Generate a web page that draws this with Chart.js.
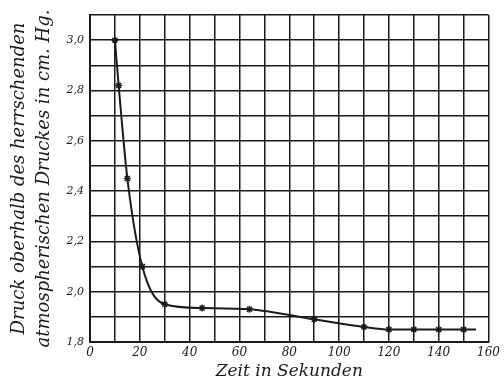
<!DOCTYPE html>
<html>
<head>
<meta charset="utf-8">
<script src="https://cdn.jsdelivr.net/npm/chart.js@4"></script>
<style>
  html, body { margin: 0; padding: 0; background: #fff; }
  #wrap { width: 504px; height: 384px; }
</style>
</head>
<body>
<div id="wrap"><canvas id="myChart"></canvas></div>
<script>
// Zeit in Sekunden / Druck (cm Hg)
const zeit = [10, 11.5, 15, 21, 30, 45, 64, 90, 110, 120, 130, 140, 150, 155];
const druck = [3.0, 2.82, 2.45, 2.1, 1.95, 1.935, 1.93, 1.89, 1.86, 1.85, 1.85, 1.85, 1.85, 1.85];
const markers = [1, 1, 1, 1, 1, 1, 1, 1, 1, 1, 1, 1, 1, 0];
const yTitle = ['Druck oberhalb des herrschenden', 'atmospherischen Druckes in cm. Hg.'];
const xTitle = 'Zeit in Sekunden';

const ctx = document.getElementById('myChart');
const ink = '#1a1a1a';
const serif = 'DejaVu Serif';

new Chart(ctx, {
type: 'line',
data: {
    datasets: [{
        data: zeit.map((x, i) => ({ x: x, y: druck[i] })),
        borderColor: ink,
        borderWidth: 2,
        cubicInterpolationMode: 'monotone',
        pointStyle: 'star',
        pointRadius: markers.map(m => m ? 3.5 : 0),
        pointBorderColor: ink,
        pointBorderWidth: 1.5,
        pointBackgroundColor: ink
    }]
},
options: {
    responsive: true,
    maintainAspectRatio: false,
    animation: false,
    layout: { padding: { top: 15, right: 12, left: 0, bottom: 0 } },
    plugins: { legend: { display: false }, tooltip: { enabled: false } },
    scales: {
        x: {
            type: 'linear',
            min: 0,
            max: 160,
            afterFit: s => { s.height = 42; },
            grid: { color: ink, lineWidth: 1.5, drawTicks: false },
            border: { color: ink, width: 2 },
            ticks: {
                stepSize: 10,
                padding: 4,
                maxRotation: 0,
                minRotation: 0,
                autoSkip: false,
                color: ink,
                font: { family: serif, style: 'italic', size: 12 },
                callback: v => (v % 20 === 0 ? String(v) : '')
            },
            title: {
                display: true,
                text: xTitle,
                color: ink,
                padding: { top: 0, bottom: 2 },
                font: { family: serif, style: 'italic', size: 17 }
            }
        },
        y: {
            min: 1.8,
            max: 3.1,
            afterFit: s => { s.width = 90; },
            grid: { color: ink, lineWidth: 1.5, drawTicks: false },
            border: { color: ink, width: 2 },
            ticks: {
                stepSize: 0.1,
                padding: 6,
                autoSkip: false,
                color: ink,
                font: { family: serif, style: 'italic', size: 11 },
                callback: v => {
                    const k = Math.round(v * 10);
                    return (k % 2 === 0 && k <= 30) ? (k / 10).toFixed(1).replace('.', ',') : '';
                }
            },
            title: {
                display: true,
                text: yTitle,
                color: ink,
                padding: { top: 7, bottom: 0 },
                font: { family: serif, style: 'italic', size: 18, lineHeight: 1.4 }
            }
        }
    }
}
})
</script>
</body>
</html>
